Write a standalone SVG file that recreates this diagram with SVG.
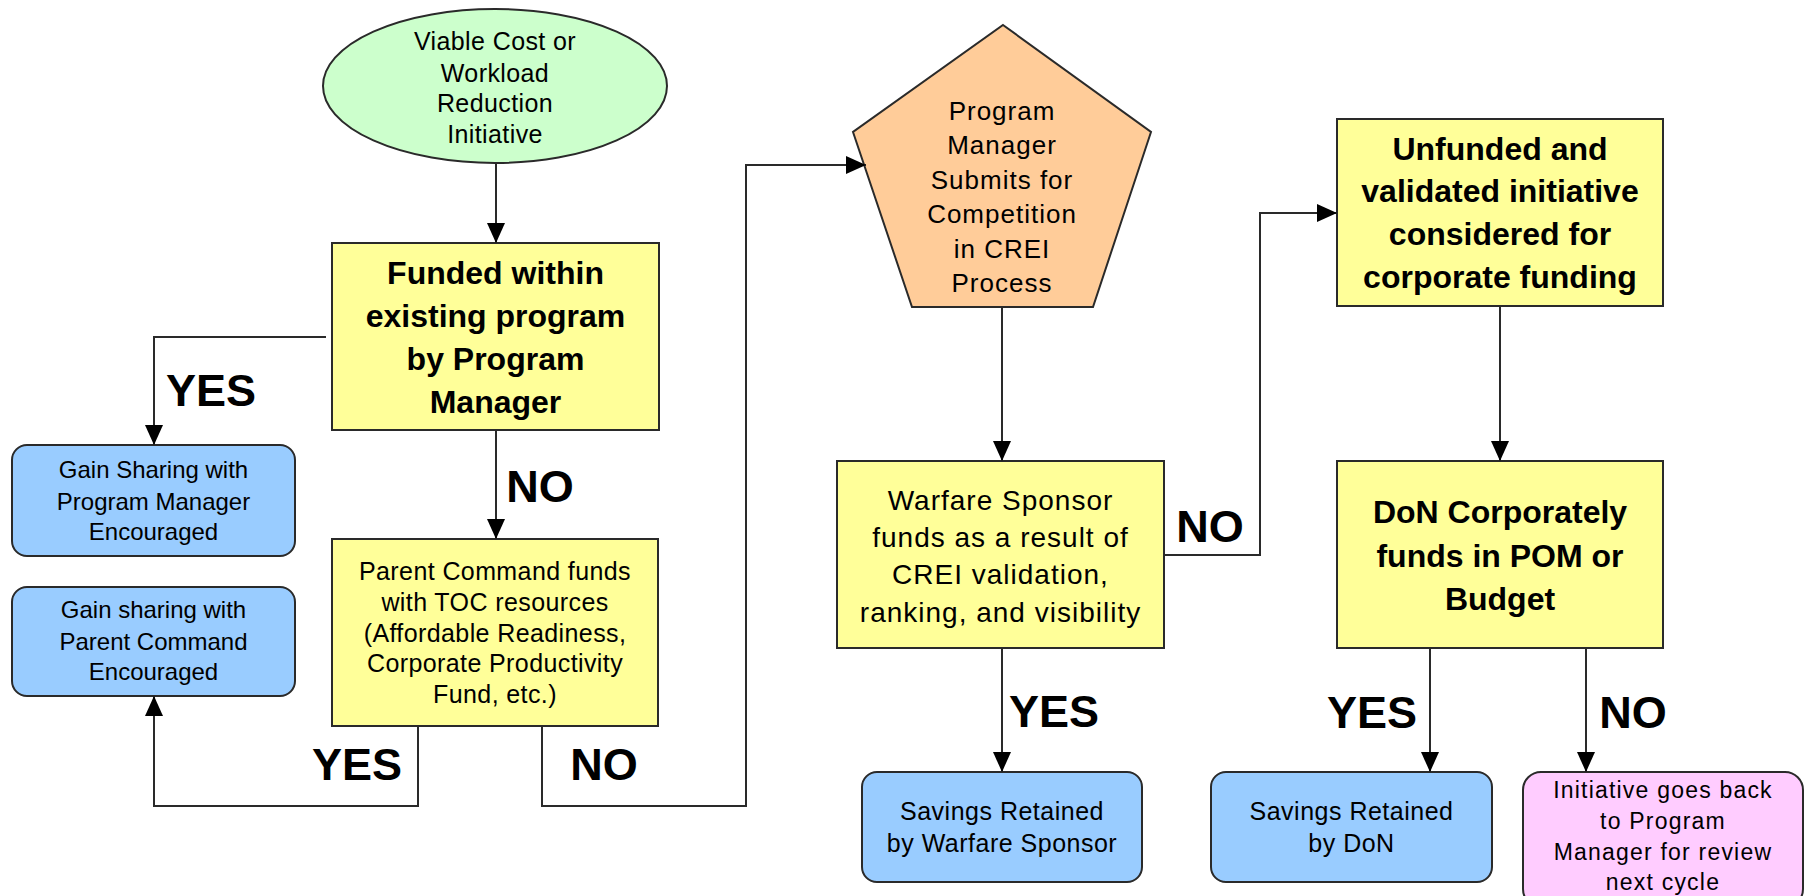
<svg xmlns="http://www.w3.org/2000/svg" width="1805" height="896" viewBox="0 0 1805 896">
<style>
.box{stroke:#2a2a2a;stroke-width:2}
.y{fill:#FFFF99}
.b{fill:#99CCFF}
.p{fill:#FFCCFF}
.g{fill:#CCFFCC}
.o{fill:#FFCC99}
text{font-family:"Liberation Sans",Arial,sans-serif;fill:#000;text-anchor:middle}
.bold{font-weight:bold;font-size:32px}
.lbl{font-weight:bold;font-size:45px}
.n25{font-size:25px;letter-spacing:0.4px}
.n24{font-size:24px}
.conn path{fill:none;stroke:#2a2a2a;stroke-width:2;marker-end:url(#ah)}
</style>
<defs>
<marker id="ah" markerUnits="userSpaceOnUse" markerWidth="20" markerHeight="18" refX="20" refY="9" orient="auto">
<path d="M0,0 L20,9 L0,18 z" fill="#000"/>
</marker>
</defs>
<rect width="1805" height="896" fill="#fff"/>

<g id="start">
<ellipse class="box g" cx="495" cy="86" rx="172" ry="77"/>
<text class="n25"><tspan x="495" y="50">Viable Cost or</tspan><tspan x="495" y="82">Workload</tspan><tspan x="495" y="112">Reduction</tspan><tspan x="495" y="143">Initiative</tspan></text>
</g>

<g id="funded">
<rect class="box y" x="332" y="243" width="327" height="187"/>
<text class="bold"><tspan x="495.5" y="284">Funded within</tspan><tspan x="495.5" y="327">existing program</tspan><tspan x="495.5" y="370">by Program</tspan><tspan x="495.5" y="413">Manager</tspan></text>
</g>

<g id="gain-pm">
<rect class="box b" x="12" y="445" width="283" height="111" rx="15"/>
<text class="n24"><tspan x="153.5" y="478">Gain Sharing with</tspan><tspan x="153.5" y="510">Program Manager</tspan><tspan x="153.5" y="540">Encouraged</tspan></text>
</g>

<g id="gain-pc">
<rect class="box b" x="12" y="587" width="283" height="109" rx="15"/>
<text class="n24"><tspan x="153.5" y="618">Gain sharing with</tspan><tspan x="153.5" y="650">Parent Command</tspan><tspan x="153.5" y="680">Encouraged</tspan></text>
</g>

<g id="parent">
<rect class="box y" x="332" y="539" width="326" height="187"/>
<text class="n25"><tspan x="495" y="580">Parent Command funds</tspan><tspan x="495" y="611">with TOC resources</tspan><tspan x="495" y="641.5">(Affordable Readiness,</tspan><tspan x="495" y="672">Corporate Productivity</tspan><tspan x="495" y="703">Fund, etc.)</tspan></text>
</g>

<g id="submit">
<polygon class="box o" points="1003,25 1151,132 1093,307 912,307 853,132"/>
<text style="font-size:26px;letter-spacing:1px"><tspan x="1002" y="120">Program</tspan><tspan x="1002" y="154.4">Manager</tspan><tspan x="1002" y="188.8">Submits for</tspan><tspan x="1002" y="223.2">Competition</tspan><tspan x="1002" y="257.6">in CREI</tspan><tspan x="1002" y="292">Process</tspan></text>
</g>

<g id="warfare">
<rect class="box y" x="837" y="461" width="327" height="187"/>
<text style="font-size:28px;letter-spacing:1px"><tspan x="1000.5" y="510">Warfare Sponsor</tspan><tspan x="1000.5" y="547">funds as a result of</tspan><tspan x="1000.5" y="584">CREI validation,</tspan><tspan x="1000.5" y="621.5">ranking, and visibility</tspan></text>
</g>

<g id="savings-ws">
<rect class="box b" x="862" y="772" width="280" height="110" rx="15"/>
<text style="font-size:25px;letter-spacing:0.5px"><tspan x="1002" y="820">Savings Retained</tspan><tspan x="1002" y="852">by Warfare Sponsor</tspan></text>
</g>

<g id="unfunded">
<rect class="box y" x="1337" y="119" width="326" height="187"/>
<text class="bold"><tspan x="1500" y="160">Unfunded and</tspan><tspan x="1500" y="202">validated initiative</tspan><tspan x="1500" y="245">considered for</tspan><tspan x="1500" y="288">corporate funding</tspan></text>
</g>

<g id="don">
<rect class="box y" x="1337" y="461" width="326" height="187"/>
<text class="bold"><tspan x="1500" y="523">DoN Corporately</tspan><tspan x="1500" y="566.5">funds in POM or</tspan><tspan x="1500" y="610">Budget</tspan></text>
</g>

<g id="savings-don">
<rect class="box b" x="1211" y="772" width="281" height="110" rx="15"/>
<text style="font-size:25px;letter-spacing:0.5px"><tspan x="1351.5" y="820">Savings Retained</tspan><tspan x="1351.5" y="852">by DoN</tspan></text>
</g>

<g id="back">
<rect class="box p" x="1523" y="772" width="280" height="135" rx="18"/>
<text style="font-size:23px;letter-spacing:1.2px"><tspan x="1663" y="798">Initiative goes back</tspan><tspan x="1663" y="829">to Program</tspan><tspan x="1663" y="860">Manager for review</tspan><tspan x="1663" y="890">next cycle</tspan></text>
</g>

<g id="connectors" class="conn">
<path d="M496,163 L496,243"/>
<path d="M326,337 L154,337 L154,445"/>
<path d="M496,430 L496,539"/>
<path d="M418,726 L418,806 L154,806 L154,696"/>
<path d="M542,726 L542,806 L746,806 L746,165 L866,165"/>
<path d="M1002,307 L1002,461"/>
<path d="M1164,555 L1260,555 L1260,213 L1337,213"/>
<path d="M1002,648 L1002,772"/>
<path d="M1500,306 L1500,461"/>
<path d="M1430,648 L1430,772"/>
<path d="M1586,648 L1586,772"/>
</g>

<g id="labels">
<text class="lbl" x="211" y="406">YES</text>
<text class="lbl" x="540" y="502">NO</text>
<text class="lbl" x="357" y="780">YES</text>
<text class="lbl" x="604" y="780">NO</text>
<text class="lbl" x="1210" y="542">NO</text>
<text class="lbl" x="1054" y="727">YES</text>
<text class="lbl" x="1372" y="728">YES</text>
<text class="lbl" x="1633" y="728">NO</text>
</g>
</svg>
